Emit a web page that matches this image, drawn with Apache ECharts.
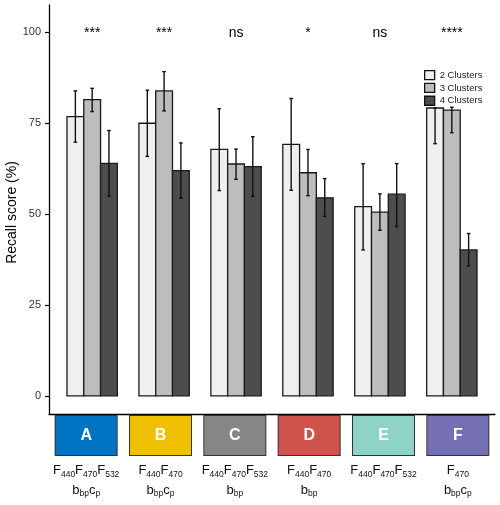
<!DOCTYPE html>
<html>
<head>
<meta charset="utf-8">
<script src="https://cdn.jsdelivr.net/npm/echarts@6/dist/echarts.min.js"></script>
<style>html,body{margin:0;padding:0;background:#fff}#c{width:500px;height:505px}</style>
</head>
<body>
<div id="c"></div>
<script>
const categories = ['A', 'B', 'C', 'D', 'E', 'F'];
const seriesNames = ['2 Clusters', '3 Clusters', '4 Clusters'];
const values2 = [76.7, 74.9, 67.7, 69.1, 52.0, 79.1];
const values3 = [81.4, 83.8, 63.7, 61.3, 50.5, 78.5];
const values4 = [63.9, 61.9, 63.0, 54.4, 55.4, 40.1];
const lower2 = [69.7, 65.8, 56.4, 56.5, 40.1, 69.3];
const upper2 = [83.8, 84.0, 78.9, 81.7, 63.8, 79.1];
const lower3 = [78.1, 78.3, 59.5, 55.0, 45.5, 72.3];
const upper3 = [84.5, 89.1, 67.8, 67.7, 55.5, 79.3];
const lower4 = [54.9, 54.3, 54.8, 49.3, 46.5, 35.7];
const upper4 = [72.9, 69.5, 71.2, 59.7, 63.8, 44.6];
const sigLabels = ['***', '***', 'ns', '*', 'ns', '****'];
const yTicks = [0, 25, 50, 75, 100];
const formulaLine1 = [
  '{m|F}{s|440}{m|F}{s|470}{m|F}{s|532}',
  '{m|F}{s|440}{m|F}{s|470}',
  '{m|F}{s|440}{m|F}{s|470}{m|F}{s|532}',
  '{m|F}{s|440}{m|F}{s|470}',
  '{m|F}{s|440}{m|F}{s|470}{m|F}{s|532}',
  '{m|F}{s|470}'
];
const formulaLine2 = [
  '{m|b}{s|bp}{m|c}{s|p}',
  '{m|b}{s|bp}{m|c}{s|p}',
  '{m|b}{s|bp}',
  '{m|b}{s|bp}',
  '',
  '{m|b}{s|bp}{m|c}{s|p}'
];

const FONT = "'Liberation Sans', Arial, sans-serif";
const barColors = ['#efefef', '#bdbdbd', '#4d4d4d'];
const boxColors = ['#0073C2', '#EFC000', '#868686', '#CD534C', '#8DD3C7', '#7570B3'];
const bw = 0.7 / 3;
const offsets = [-bw, 0, bw];
const valueSets = [values2, values3, values4];
const lowerSets = [lower2, lower3, lower4];
const upperSets = [upper2, upper3, upper4];

function barRender(k) {
  return function (params, api) {
    const ci = api.value(0), v = api.value(1);
    const xc = ci + offsets[k];
    const p1 = api.coord([xc - bw / 2, v]);
    const p0 = api.coord([xc + bw / 2, 0]);
    return {
      type: 'rect',
      shape: { x: p1[0], y: p1[1], width: p0[0] - p1[0], height: p0[1] - p1[1] },
      style: { fill: barColors[k], stroke: '#1a1a1a', lineWidth: 1.3 }
    };
  };
}

const barSeries = seriesNames.map((name, k) => ({
  name: name,
  type: 'custom',
  xAxisIndex: 0, yAxisIndex: 0,
  itemStyle: { color: barColors[k], borderColor: '#1a1a1a', borderWidth: 1.3 },
  renderItem: barRender(k),
  data: valueSets[k].map((v, i) => [i, v]),
  z: 2
}));

const errData = [];
for (let k = 0; k < 3; k++) for (let i = 0; i < categories.length; i++)
  errData.push([i, k, lowerSets[k][i], upperSets[k][i]]);

const errSeries = {
  type: 'custom',
  name: 'err',
  xAxisIndex: 0, yAxisIndex: 0,
  encode: { x: 0, y: [2, 3] },
  renderItem: function (params, api) {
    const ci = api.value(0), k = api.value(1);
    const xc = ci + offsets[k];
    const top = api.coord([xc, api.value(3)]);
    const bot = api.coord([xc, api.value(2)]);
    const st = { stroke: '#111', lineWidth: 1.4 };
    return {
      type: 'group', children: [
        { type: 'line', shape: { x1: top[0], y1: top[1], x2: bot[0], y2: bot[1] }, style: st },
        { type: 'line', shape: { x1: top[0] - 1.8, y1: top[1], x2: top[0] + 1.8, y2: top[1] }, style: st },
        { type: 'line', shape: { x1: bot[0] - 1.8, y1: bot[1], x2: bot[0] + 1.8, y2: bot[1] }, style: st }
      ]
    };
  },
  data: errData,
  z: 3
};

const sigSeries = {
  type: 'custom',
  name: 'sig',
  xAxisIndex: 0, yAxisIndex: 0,
  renderItem: function (params, api) {
    const i = api.value(0);
    const p = api.coord([i, api.value(1)]);
    return {
      type: 'text',
      style: { text: sigLabels[i], x: p[0], y: p[1] + 1.5, align: 'center', verticalAlign: 'middle', font: '14px ' + FONT, fill: '#000' }
    };
  },
  data: categories.map((c, i) => [i, 100]),
  z: 4
};

const boxRich = {};
categories.forEach((c, i) => {
  boxRich['b' + i] = {
    width: 61, height: 39, backgroundColor: boxColors[i], borderColor: '#333', borderWidth: 1,
    color: '#fff', fontWeight: 'bold', fontSize: 16, fontFamily: FONT, align: 'center', verticalAlign: 'middle'
  };
});

const chart = echarts.init(document.getElementById('c'), null, { renderer: 'canvas' });
chart.setOption({
  animation: false,
  backgroundColor: '#fff',
  grid: { left: 49, right: 5, top: 5, bottom: 91, containLabel: false, outerBoundsMode: 'none' },
  legend: {
    orient: 'vertical', left: 419, top: 65, itemWidth: 10, itemHeight: 9, itemGap: 2.5,
    icon: 'rect',
    textStyle: { fontSize: 9.5, fontFamily: FONT, color: '#222' },
    data: seriesNames.map((n, k) => ({ name: n, itemStyle: { color: barColors[k], borderColor: '#111', borderWidth: 1.3 } }))
  },
  xAxis: [
    {
      type: 'value', min: -0.6, max: 5.6, position: 'bottom',
      axisLine: { show: true, onZero: false, lineStyle: { color: '#000', width: 1.3 } },
      axisTick: { show: false }, axisLabel: { show: false }, splitLine: { show: false }
    },
    {
      type: 'category', data: categories, position: 'bottom', boundaryGap: true,
      axisLine: { show: false, onZero: false }, axisTick: { show: false }, splitLine: { show: false },
      axisLabel: {
        margin: 2, interval: 0,
        formatter: function (v, i) { return '{b' + i + '|' + v + '}'; },
        rich: boxRich
      }
    },
    {
      type: 'category', data: categories, position: 'bottom', boundaryGap: true,
      axisLine: { show: false, onZero: false }, axisTick: { show: false }, splitLine: { show: false },
      axisLabel: {
        margin: 47, interval: 0,
        formatter: function (v, i) { return formulaLine1[i] + '\n' + formulaLine2[i]; },
        rich: {
          m: { fontSize: 13, lineHeight: 19.5, fontFamily: FONT, color: '#111' },
          s: { fontSize: 8.5, lineHeight: 10, padding: [7, 0, 0, 0], fontFamily: FONT, color: '#111' }
        }
      }
    }
  ],
  yAxis: {
    type: 'value', min: -5, max: 107.4, position: 'left',
    name: 'Recall score (%)', nameLocation: 'middle', nameGap: 30, nameMoveOverlap: false,
    nameTextStyle: { fontSize: 14, fontFamily: FONT, color: '#000', padding: [0, 6, 0, 0] },
    axisLine: { show: true, onZero: false, lineStyle: { color: '#000', width: 1.3 } },
    axisTick: { show: true, length: 4, customValues: yTicks, lineStyle: { color: '#000', width: 1.2 } },
    axisLabel: { customValues: yTicks, fontSize: 11, fontFamily: FONT, color: '#333', margin: 8 },
    splitLine: { show: false }
  },
  series: barSeries.concat([errSeries, sigSeries])
});
</script>
</body>
</html>
